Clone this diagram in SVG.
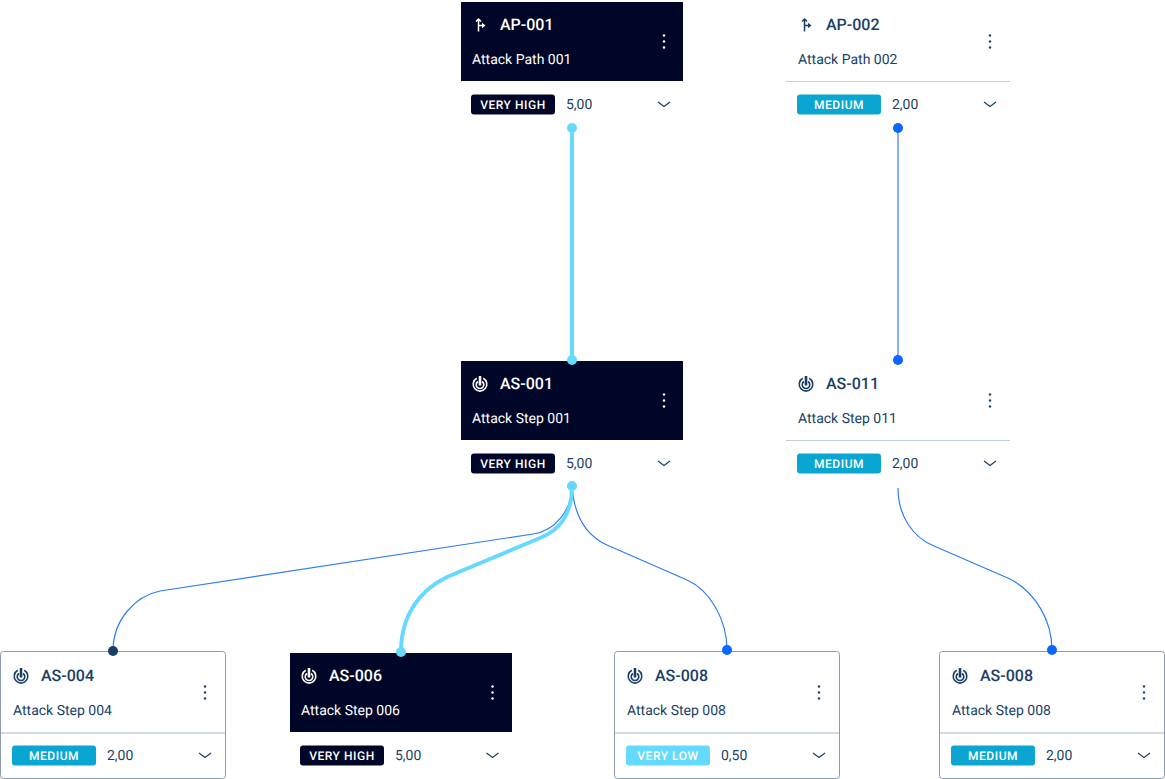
<svg xmlns="http://www.w3.org/2000/svg" width="1165" height="779" viewBox="0 0 1165 779">
<style>
text{font-family:Roboto,"Liberation Sans",sans-serif;text-rendering:geometricPrecision}
.t{font-size:16px;font-weight:500;fill:#1a3f66}
.s{font-size:14px;fill:#1a3f66}
.v{font-size:14px;fill:#1a3f66}
.b{font-size:12px;font-weight:500;letter-spacing:.55px;text-anchor:middle;fill:#fff}
.d .t,.d .s{fill:#fff}
.ink{color:#1a3f66}
.d{color:#fff}
.chev{fill:none;stroke:#1a3f66;stroke-width:1.2}
.card{fill:#fff;stroke:#8c9cb0;stroke-width:1}
.dark{fill:#000628}
.sep{stroke:#c4cfda;stroke-width:1}
.sep2{stroke:#c4cfda;stroke-width:1.5}
.vh{fill:#000628}.med{fill:#0ba5d2}.vl{fill:#66d9ff}
.lnk{fill:none;stroke:#2f7cf6;stroke-width:1.2}
.hot{fill:none;stroke:#66d9ff;stroke-width:4}
</style>
<defs>
<g id="dots"><circle cx="0" cy="-6" r="1.2" fill="currentColor"/><circle cx="0" cy="0" r="1.2" fill="currentColor"/><circle cx="0" cy="6" r="1.2" fill="currentColor"/></g>
<path id="chevron" class="chev" d="M-6 -2.500L0 2L6 -2.500"/>
<g id="ipath" fill="none" stroke="currentColor" stroke-width="1.5"><path d="M-1.500 6.500V-5.500M-4 -3.500L-1.500 -6L1 -3.500M-1.500 0.500H2"/><path d="M2 -2.200L5.500 0.500L2 3.200Z" fill="currentColor" stroke="none"/></g>
<g id="istep" fill="none" stroke="currentColor" stroke-width="1.600"><path d="M-3.200 -5.700A6.800 6.800 0 1 0 3.200 -5.700"/><path d="M-2 -2.500A3.800 3.800 0 1 0 2 -2.500"/><path d="M0 -8V1.500" stroke-width="2.600"/></g>
</defs>
<g id="connectors">
<path class="hot" d="M572 128V360"/>
<path class="lnk" d="M898 128V360"/>
<path class="lnk" d="M572 486C572 510 555 531 533 534L160 591C135 596 113 620 113 651"/>
<path class="lnk" d="M572 486C574 515 585 535 607 545L687 580C710 590 727 620 727 650"/>
<path class="lnk" d="M898 488C898 515 912 537 934 546L1010 579C1035 592 1052 620 1052 650"/>
<path class="hot" d="M572 486C572 515 560 530 540 538L447 577C420 590 401 615 401 652"/>
</g>
<g id="AP-001" class="d">
<rect class="dark" x="461" y="2" width="222" height="79"/>
<use href="#ipath" x="480" y="25"/>
<text class="t" x="500" y="30">AP-001</text>
<text class="s" x="472" y="64">Attack Path 001</text>
<use href="#dots" x="664" y="41.500"/>
<rect class="vh" x="471" y="94.400" width="84" height="20" rx="3"/>
<text class="b" x="513" y="108.500">VERY HIGH</text>
<text class="v" x="566" y="109">5,00</text>
<use href="#chevron" x="664" y="104.500"/>
<circle cx="572" cy="128" r="5" fill="#66d9ff"/>
</g>
<g id="AP-002" class="ink">
<line class="sep" x1="786" y1="81.500" x2="1010" y2="81.500"/>
<use href="#ipath" x="806" y="25"/>
<text class="t" x="826" y="30">AP-002</text>
<text class="s" x="798" y="64">Attack Path 002</text>
<use href="#dots" x="990" y="41.500"/>
<rect class="med" x="797" y="94.400" width="84" height="20" rx="3"/>
<text class="b" x="839" y="108.500">MEDIUM</text>
<text class="v" x="892" y="109">2,00</text>
<use href="#chevron" x="990" y="104.500"/>
<circle cx="898" cy="128" r="5" fill="#0a66ff"/>
</g>
<g id="AS-001" class="d">
<rect class="dark" x="461" y="361" width="222" height="79"/>
<use href="#istep" x="480" y="384"/>
<text class="t" x="500" y="389">AS-001</text>
<text class="s" x="472" y="423">Attack Step 001</text>
<use href="#dots" x="664" y="400.500"/>
<rect class="vh" x="471" y="453.400" width="84" height="20" rx="3"/>
<text class="b" x="513" y="467.500">VERY HIGH</text>
<text class="v" x="566" y="468">5,00</text>
<use href="#chevron" x="664" y="463.500"/>
<circle cx="572" cy="360" r="5" fill="#66d9ff"/>
<circle cx="572" cy="486" r="5" fill="#66d9ff"/>
</g>
<g id="AS-011" class="ink">
<line class="sep" x1="786" y1="440.500" x2="1010" y2="440.500"/>
<use href="#istep" x="806" y="384"/>
<text class="t" x="826" y="389">AS-011</text>
<text class="s" x="798" y="423">Attack Step 011</text>
<use href="#dots" x="990" y="400.500"/>
<rect class="med" x="797" y="453.400" width="84" height="20" rx="3"/>
<text class="b" x="839" y="467.500">MEDIUM</text>
<text class="v" x="892" y="468">2,00</text>
<use href="#chevron" x="990" y="463.500"/>
<circle cx="898" cy="360" r="5" fill="#0a66ff"/>
</g>
<g id="AS-004" class="ink">
<rect class="card" x="0.500" y="651.500" width="225" height="127" rx="3"/>
<line class="sep2" x1="1" y1="733" x2="225" y2="733"/>
<use href="#istep" x="21" y="676"/>
<text class="t" x="41" y="681">AS-004</text>
<text class="s" x="13" y="715">Attack Step 004</text>
<use href="#dots" x="205" y="692.500"/>
<rect class="med" x="12" y="745.400" width="84" height="20" rx="3"/>
<text class="b" x="54" y="759.500">MEDIUM</text>
<text class="v" x="107" y="760">2,00</text>
<use href="#chevron" x="205" y="755.500"/>
<circle cx="113" cy="651" r="5" fill="#1a3f66"/>
</g>
<g id="AS-006" class="d">
<rect class="dark" x="290" y="653" width="222" height="79"/>
<use href="#istep" x="309" y="676"/>
<text class="t" x="329" y="681">AS-006</text>
<text class="s" x="301" y="715">Attack Step 006</text>
<use href="#dots" x="492.500" y="692.500"/>
<rect class="vh" x="300" y="745.400" width="84" height="20" rx="3"/>
<text class="b" x="342" y="759.500">VERY HIGH</text>
<text class="v" x="395" y="760">5,00</text>
<use href="#chevron" x="492.500" y="755.500"/>
<circle cx="401" cy="652" r="5" fill="#66d9ff"/>
</g>
<g id="AS-008-a" class="ink">
<rect class="card" x="614.500" y="651.500" width="225" height="127" rx="3"/>
<line class="sep2" x1="615" y1="733" x2="839" y2="733"/>
<use href="#istep" x="635" y="676"/>
<text class="t" x="655" y="681">AS-008</text>
<text class="s" x="627" y="715">Attack Step 008</text>
<use href="#dots" x="819" y="692.500"/>
<rect class="vl" x="626" y="745.400" width="84" height="20" rx="3"/>
<text class="b" x="668" y="759.500">VERY LOW</text>
<text class="v" x="721" y="760">0,50</text>
<use href="#chevron" x="819" y="755.500"/>
<circle cx="727" cy="650" r="5" fill="#0a66ff"/>
</g>
<g id="AS-008-b" class="ink">
<rect class="card" x="939.500" y="651.500" width="225" height="127" rx="3"/>
<line class="sep2" x1="940" y1="733" x2="1164" y2="733"/>
<use href="#istep" x="960" y="676"/>
<text class="t" x="980" y="681">AS-008</text>
<text class="s" x="952" y="715">Attack Step 008</text>
<use href="#dots" x="1144" y="692.500"/>
<rect class="med" x="951" y="745.400" width="84" height="20" rx="3"/>
<text class="b" x="993" y="759.500">MEDIUM</text>
<text class="v" x="1046" y="760">2,00</text>
<use href="#chevron" x="1144" y="755.500"/>
<circle cx="1052" cy="650" r="5" fill="#0a66ff"/>
</g>
</svg>
